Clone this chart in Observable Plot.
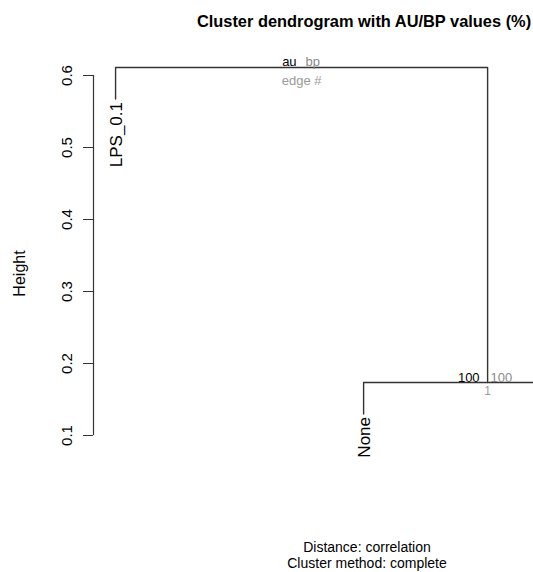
<!DOCTYPE html>
<html><head><meta charset="utf-8">
<script src="https://cdn.jsdelivr.net/npm/d3@7"></script>
<script src="https://cdn.jsdelivr.net/npm/@observablehq/plot@0.6"></script>
<style>
html,body{margin:0;padding:0;overflow:hidden;background:#fff;}
body{width:533px;height:572px;font-family:"Liberation Sans",Arial,Helvetica,sans-serif;color:#000;}
#title{height:40px;box-sizing:border-box;padding:12px 0 0 195px;font-weight:bold;font-size:16.4px;line-height:18px;text-align:center;white-space:nowrap;}
#chart{height:480px;}
#caption{height:52px;box-sizing:border-box;padding-top:20px;padding-left:201px;font-size:14px;line-height:15.7px;text-align:center;white-space:nowrap;}
</style></head><body>
<div id="title">Cluster dendrogram with AU/BP values (%)</div>
<div id="chart"></div>
<div id="caption"><div>Distance: correlation</div><div>Cluster method: complete</div></div>
<script>
// leaves in plotting order
const leafLabels = ["LPS_0.1", "None", ""];
// hclust-style merge table (negative = leaf, positive = earlier merge)
const mergeA = [-2, -1];
const mergeB = [-3, 1];
const mergeHeights = [0.1736, 0.6111];
// pvclust values for non-root edges
const auValues = [100];
const bpValues = [100];
const edgeNumbers = [1];
const legendLabels = ["au", "bp", "edge #"];
const yTicks = [0.1, 0.2, 0.3, 0.4, 0.5, 0.6];
const hang = 0.1;

const xDomain = [0.911, 2.685];
const hRange = d3.max(mergeHeights) - d3.min(mergeHeights);

// leaf positions
const leafX = leafLabels.map((_, i) => i + 1);
const nodeX = [], nodeY = [];
const childPos = (c, h) => c < 0
  ? {x: leafX[-c - 1], y: h - hang * hRange}
  : {x: nodeX[c - 1], y: nodeY[c - 1]};

const branches = [];
const leaves = [];
mergeHeights.forEach((h, k) => {
  const a = childPos(mergeA[k], h), b = childPos(mergeB[k], h);
  nodeX[k] = (a.x + b.x) / 2; nodeY[k] = h;
  [[a.x, a.y], [a.x, h], [b.x, h], [b.x, b.y]].forEach(([x, y]) => branches.push({k, x, y}));
  [[mergeA[k], a], [mergeB[k], b]].forEach(([c, p]) => {
    if (c < 0) leaves.push({label: leafLabels[-c - 1], x: p.x, y: p.y});
  });
});
const rootK = mergeHeights.length - 1;
const nodes = mergeHeights.slice(0, rootK).map((h, k) => ({
  x: nodeX[k], y: h, au: String(auValues[k]), bp: String(bpValues[k]), edge: String(edgeNumbers[k])
}));
const root = [{x: nodeX[rootK], y: nodeY[rootK]}];

const chart = Plot.plot({
  width: 533,
  height: 480,
  marginLeft: 93,
  marginRight: 0,
  marginTop: 35,
  marginBottom: 85,
  style: {fontFamily: '"Liberation Sans", Arial, Helvetica, sans-serif', color: "#000", background: "#fff", overflow: "hidden"},
  x: {domain: xDomain, axis: null},
  y: {domain: [0.1, 0.6], axis: null},
  marks: [
    Plot.axisY(yTicks, {tickSize: 10, tickPadding: 12, tickRotate: -90, tickFormat: d3.format(".1f"),
      fontSize: 15, label: null, stroke: "#333", fill: "#000"}),
    Plot.ruleX([xDomain[0]], {y1: yTicks[0], y2: yTicks[yTicks.length - 1], stroke: "#333", strokeWidth: 1.2}),
    Plot.line(branches, {x: "x", y: "y", z: "k", stroke: "#333", strokeWidth: 1.4, curve: "linear"}),
    Plot.text(leaves, {x: "x", y: "y", text: "label", rotate: -90, textAnchor: "end", lineAnchor: "middle",
      dx: 1, dy: 3, fontSize: 17, fill: "#000"}),
    Plot.text(["Height"], {frameAnchor: "left", rotate: -90, lineAnchor: "top", textAnchor: "middle",
      dx: -80, dy: 18, fontSize: 16, fill: "#000"}),
    // node values
    Plot.text(nodes, {x: "x", y: "y", text: "au", textAnchor: "end", lineAnchor: "bottom", dx: -8, dy: -1, fontSize: 13, fill: "#000"}),
    Plot.text(nodes, {x: "x", y: "y", text: "bp", textAnchor: "start", lineAnchor: "bottom", dx: 3, dy: -1, fontSize: 13, fill: "#8a8a8a"}),
    Plot.text(nodes, {x: "x", y: "y", text: "edge", textAnchor: "middle", lineAnchor: "top", dx: 0, dy: 4, fontSize: 12, fill: "#9a9a9a"}),
    // legend at root
    Plot.text(root, {x: "x", y: "y", text: () => legendLabels[0], textAnchor: "end", lineAnchor: "bottom", dx: -5, dy: -2, fontSize: 13, fill: "#000"}),
    Plot.text(root, {x: "x", y: "y", text: () => legendLabels[1], textAnchor: "start", lineAnchor: "bottom", dx: 4, dy: -2, fontSize: 13, fill: "#8a8a8a"}),
    Plot.text(root, {x: "x", y: "y", text: () => legendLabels[2], textAnchor: "middle", lineAnchor: "top", dx: 0, dy: 8, fontSize: 13, fill: "#9a9a9a"})
  ]
});
document.getElementById("chart").appendChild(chart);
</script>
</body></html>
